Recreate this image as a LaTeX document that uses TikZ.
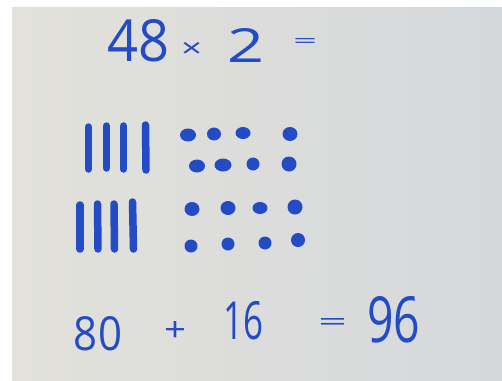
\documentclass[tikz,border=0pt]{standalone}
\usepackage{graphicx}
\usepackage{fontspec}
\setmainfont{Open Sans}
\definecolor{ink}{RGB}{35,75,198}
\definecolor{boardL}{RGB}{226,225,219}
\definecolor{boardR}{RGB}{213,216,219}
\tikzset{
  hand/.style={inner sep=0pt, outer sep=0pt, text=ink},
  bar/.style={line width=7.5pt, line cap=round, draw=ink},
  blob/.style={fill=ink, draw=none}
}
\begin{document}
\begin{tikzpicture}[x=1pt,y=-1pt]
\useasboundingbox (0,0) rectangle (502,380);
\fill[white] (0,0) rectangle (502,380);
\shade[left color=boardL, right color=boardR] (12,7) rectangle (502,380);
% top line
\node[hand] (t48) at (138.5,41) {\resizebox{62pt}{42pt}{48}};
\node[hand] (tx) at (191.5,50) {\resizebox{21pt}{15pt}{×}};
\node[hand] (t2) at (246.5,45) {\resizebox{37pt}{34pt}{2}};
\node[hand] (teq) at (305,42.5) {\resizebox{24pt}{9pt}{=}};
% tally bars
\draw[bar] (88.5,127) -- (88.5,169);
\draw[bar] (106.5,126) -- (106.5,168);
\draw[bar] (123.5,126) -- (123.5,169);
\draw[bar] (145.5,125) -- (146,170);
\draw[bar] (80,205) -- (80,249);
\draw[bar] (97.5,204) -- (98,249);
\draw[bar] (114,204) -- (114.5,249);
\draw[bar] (132.5,202) -- (133.5,249);
% dots
\fill[blob] (188,135) ellipse (8pt and 6.5pt);
\fill[blob] (214,134) ellipse (7pt and 6.5pt);
\fill[blob] (243,133) ellipse (7.5pt and 6pt);
\fill[blob] (290,134) ellipse (7.5pt and 7pt);
\fill[blob] (197,166) ellipse (8pt and 6.5pt);
\fill[blob] (223,165) ellipse (8.5pt and 6.5pt);
\fill[blob] (253,164) ellipse (6.5pt and 6.5pt);
\fill[blob] (289,164) ellipse (7.5pt and 7.5pt);
\fill[blob] (192,209) ellipse (7.5pt and 7pt);
\fill[blob] (228,208) ellipse (7.5pt and 7pt);
\fill[blob] (260,208) ellipse (7.5pt and 6pt);
\fill[blob] (295,207) ellipse (7.5pt and 7.5pt);
\fill[blob] (191,246) ellipse (6.5pt and 6.5pt);
\fill[blob] (228,244) ellipse (6.5pt and 6.5pt);
\fill[blob] (265,243) ellipse (6.5pt and 6.5pt);
\fill[blob] (298,240) ellipse (7pt and 7pt);
% bottom line
\node[hand] (b80) at (98,334) {\resizebox{48pt}{34pt}{80}};
\node[hand] (bplus) at (175,331) {\resizebox{22pt}{20pt}{+}};
\node[hand] (b16) at (243,321) {\resizebox{40pt}{38pt}{16}};
\node[hand] (beq) at (332.5,324) {\resizebox{29pt}{12pt}{=}};
\node[hand] (b96) at (393.5,320) {\resizebox{53pt}{46pt}{96}};
\end{tikzpicture}
\end{document}
